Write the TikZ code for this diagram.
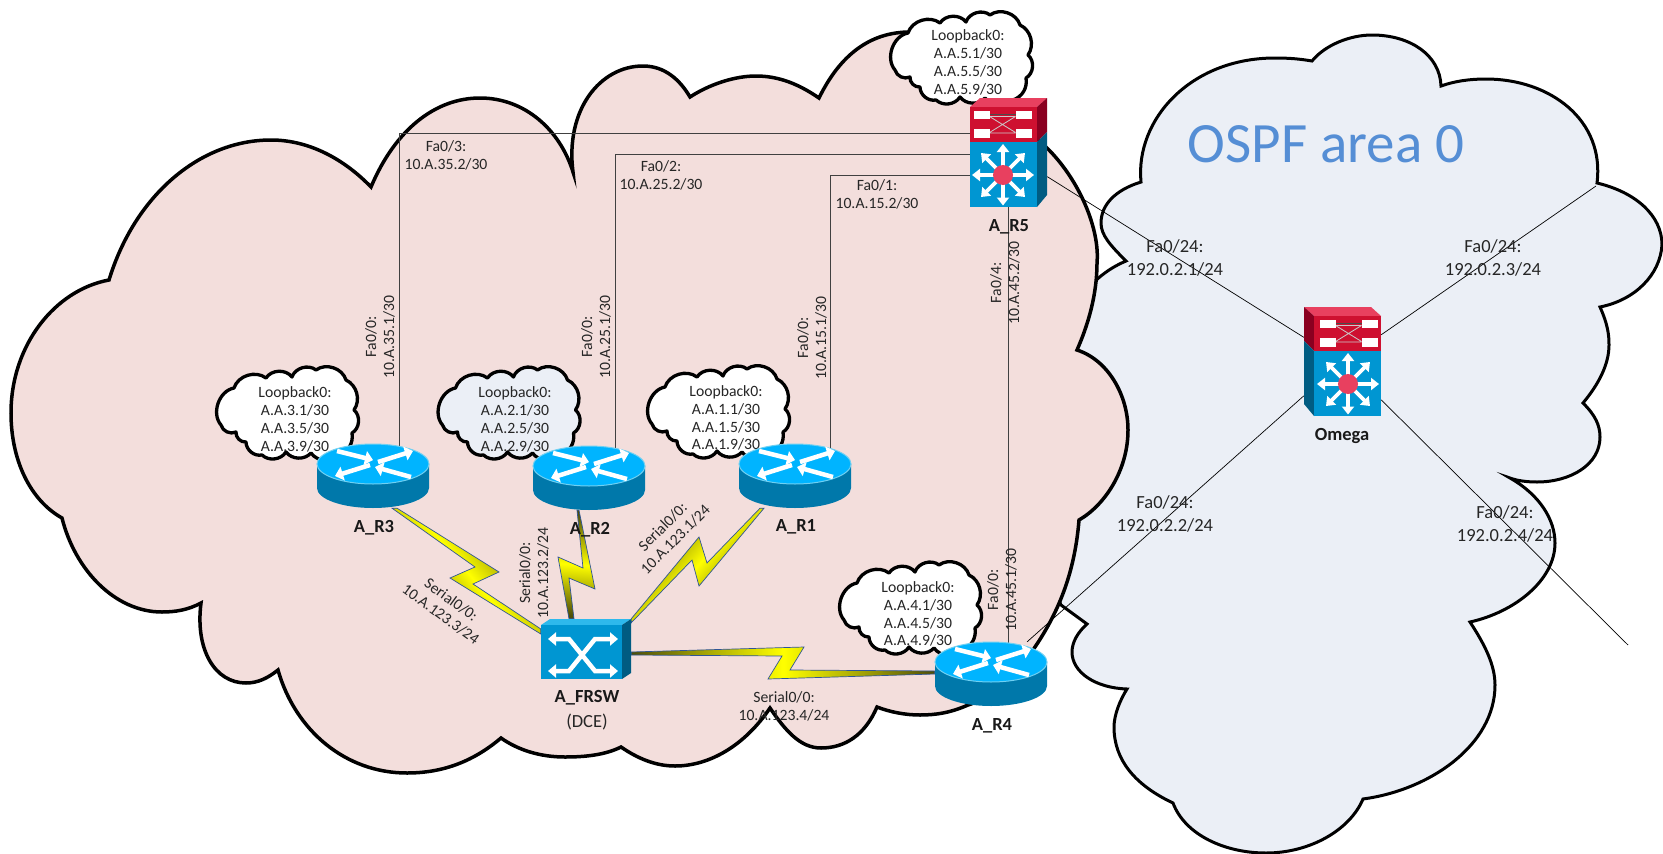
\documentclass[tikz,border=0pt]{standalone}
\usepackage{fontspec}
\setmainfont{Carlito}
\usepackage{tikz}
\usetikzlibrary{arrows.meta}
\definecolor{pinkarea}{HTML}{F3DEDC}
\definecolor{bluearea}{HTML}{EBEFF6}
\definecolor{labeltext}{HTML}{262626}
\definecolor{areatext}{HTML}{558ED5}
\definecolor{routertop}{HTML}{00B4FF}
\definecolor{routerrim}{HTML}{6FD0F2}
\definecolor{routerbody}{HTML}{0078AA}
\definecolor{switchfront}{HTML}{0096D2}
\definecolor{switchtop}{HTML}{2EB9EC}
\definecolor{switchside}{HTML}{005C82}
\definecolor{panelfront}{HTML}{CE1030}
\definecolor{paneltop}{HTML}{E8405F}
\definecolor{panelside}{HTML}{8A0020}
\definecolor{bolthi}{HTML}{FFFF00}
\definecolor{boltlo}{HTML}{4E4E08}
\definecolor{boltedge}{HTML}{2F5597}
\tikzset{
  area/.style={draw=black,line width=3.5pt,line join=miter},
  smallcloud/.style={draw=black,line width=3.3pt,line join=round},
  wire/.style={draw=black!75,line width=1pt},
  thinwire/.style={draw=black,line width=0.7pt},
  serialbolt/.style={draw=boltedge,line width=0.7pt,left color=boltlo,right color=boltlo,middle color=bolthi},
  devarrow/.style={draw=white,line width=3.6pt,-{Triangle[length=8pt,width=12pt]}},
  routerarrow/.style={draw=white,line width=4.5pt,-{Triangle[length=8pt,width=14pt]}},
  devbox/.style={inner sep=0pt,minimum width=#1},
  portlabel/.style={font=\fontsize{15.7}{17.8}\selectfont,align=center,text=labeltext,inner sep=0pt},
  bigport/.style={font=\fontsize{18.5}{22.5}\selectfont,align=center,text=labeltext,inner sep=0pt},
  devlabel/.style={font=\fontsize{18.5}{22}\selectfont\bfseries,text=black!90,inner sep=0pt},
  dcelabel/.style={font=\fontsize{18.5}{22}\selectfont,text=labeltext,inner sep=0pt},
  pics/router/.style={code={
    \path[fill=routerbody] (-56,-12) -- (-56,12) arc[start angle=180,end angle=0,x radius=56,y radius=20] -- (56,-12) -- cycle;
    \path[draw=routerrim,line width=1pt,fill=routertop] (0,-12) circle[x radius=56,y radius=20];
    \draw[routerarrow] (-36,-25) -- (0,-16);
    \draw[routerarrow] (5,-14) -- (40,-25);
    \draw[routerarrow] (-3,-11) -- (-38,0);
    \draw[routerarrow] (38,1) -- (2,-9);
  }},
  pics/mlswitch/.style={code={
    \path[fill=paneltop] (-38.5,-45.5) -- (-28.5,-54.5) -- (38.5,-54.5) -- (28.5,-45.5) -- cycle;
    \path[fill=panelside] (28.5,-45.5) -- (38.5,-54.5) -- (38.5,-20.5) -- (28.5,-10.5) -- cycle;
    \path[fill=switchside] (28.5,-10.5) -- (38.5,-20.5) -- (38.5,42.5) -- (28.5,54.5) -- cycle;
    \path[fill=panelfront] (-38.5,-45.5) rectangle (28.5,-10.5);
    \path[fill=switchfront] (-38.5,-10.5) rectangle (28.5,54.5);
    \draw[black!70,line width=0.7pt] (-19,-38) -- (7,-38);
    \draw[white!80!black,line width=0.8pt] (-19,-36) -- (7,-36) (-19,-36) -- (7,-20) (-19,-20) -- (7,-36) (-19,-19.5) -- (7,-19.5);
    \path[fill=white] (-35,-42) rectangle (-19,-33.5);
    \path[fill=white] (7,-42) rectangle (23,-33.5);
    \path[fill=white] (-35,-23.5) rectangle (-19,-15);
    \path[fill=white] (7,-23.5) rectangle (23,-15);
    \draw[devarrow] (-5.5,22.5) -- (25.5,22.5);
    \draw[devarrow] (-5.5,22.5) -- (-36.5,22.5);
    \draw[devarrow] (-5.5,22.5) -- (-5.5,-8.5);
    \draw[devarrow] (-5.5,22.5) -- (-5.5,53);
    \draw[devarrow] (-5.5,22.5) -- (16.5,0.5);
    \draw[devarrow] (-5.5,22.5) -- (-27.5,0.5);
    \draw[devarrow] (-5.5,22.5) -- (16.5,44.5);
    \draw[devarrow] (-5.5,22.5) -- (-27.5,44.5);
    \path[fill=paneltop] (-5.5,22.5) circle[radius=10];
  }},
  pics/frswitch/.style={code={
    \path[fill=switchtop] (-45,-24) -- (-36,-30) -- (45,-30) -- (36,-24) -- cycle;
    \path[fill=switchside] (36,-24) -- (45,-30) -- (45,24) -- (36,30) -- cycle;
    \path[fill=switchfront] (-45,-24) rectangle (36,30);
    \draw[draw=white,line width=4.5pt,{Triangle[length=8pt,width=13pt]}-{Triangle[length=8pt,width=13pt]}] (-38,-10) -- (-17,-10) -- (9,22) -- (32,22);
    \draw[draw=white,line width=4.5pt,{Triangle[length=8pt,width=13pt]}-{Triangle[length=8pt,width=13pt]}] (-38,22) -- (-17,22) -- (9,-10) -- (32,-10);
  }},
  pics/loopcloud/.style={code={
    \path[smallcloud,fill=#1] (-53,-24) to[bend left=55] (-21,-34) to[bend left=55] (5,-35) to[bend left=55] (29,-42) to[bend left=55] (59,-32) to[bend left=50] (67,-2) to[bend left=55] (65,21) to[bend left=40] (52,43) to[bend left=50] (24,41) to[bend left=50] (-1,40) to[bend left=50] (-25,43) to[bend left=50] (-41,30) to[bend left=50] (-51,20) to[bend left=50] (-66,13) to[bend left=60] cycle;
  }},
}
\begin{document}
\begin{tikzpicture}[x=1pt,y=-1pt]
\useasboundingbox (0,0) rectangle (1663,854);

\node [devbox=77pt,minimum height=109pt] (r5) at (1008.5,152.5) {};
\node [devbox=77pt,minimum height=109pt] (omega) at (1342.5,361.5) {};
\node [devbox=112pt,minimum height=64pt] (r3) at (373,476) {};
\node [devbox=112pt,minimum height=64pt] (r2) at (589,478) {};
\node [devbox=112pt,minimum height=64pt] (r1) at (795,476) {};
\node [devbox=112pt,minimum height=64pt] (r4) at (991,674) {};
\node [devbox=90pt,minimum height=60pt] (frsw) at (586,649) {};
\coordinate (fa3) at (399,133);
\coordinate (fa2) at (615,154);
\coordinate (fa1) at (830,175);
\coordinate (omegaup) at (1596,186);
\coordinate (omegadown) at (1628,645);

\path[area,line width=3pt,fill=bluearea] (1126,261) .. controls (1110,245) and (1101,235) .. (1101,223) .. controls (1101,205) and (1115,190) .. (1141,182)
  .. controls (1135,120) and (1190,58) .. (1275,58) .. controls (1290,58) and (1300,59) .. (1312,61)
  .. controls (1325,45) and (1350,35) .. (1372,35) .. controls (1410,35) and (1440,55) .. (1441,86)
  .. controls (1455,81) and (1470,79) .. (1486,79) .. controls (1550,79) and (1605,120) .. (1597,183)
  .. controls (1635,192) and (1662,215) .. (1662,245) .. controls (1660,275) and (1635,300) .. (1600,307)
  .. controls (1608,325) and (1609,335) .. (1609,345) .. controls (1609,365) and (1598,385) .. (1583,403)
  .. controls (1595,415) and (1600,425) .. (1600,437) .. controls (1600,465) and (1570,482) .. (1537,482) .. controls (1528,482) and (1518,481) .. (1510,478)
  .. controls (1540,495) and (1555,520) .. (1555,543) .. controls (1555,580) and (1515,612) .. (1470,622)
  .. controls (1485,645) and (1495,665) .. (1495,685) .. controls (1495,745) and (1430,790) .. (1363,799)
  .. controls (1350,830) and (1310,853) .. (1266,853) .. controls (1225,853) and (1185,835) .. (1173,803)
  .. controls (1135,785) and (1114,760) .. (1114,727) .. controls (1114,715) and (1120,700) .. (1127,689)
  .. controls (1095,688) and (1072,672) .. (1072,652) .. controls (1072,642) and (1078,632) .. (1087,624)
  -- (1061,605) .. controls (1045,570) and (1030,480) .. (1040,400) .. controls (1060,300) and (1100,272) .. (1126,261) -- cycle;

\path[area,fill=pinkarea] (109,280) .. controls (135,195) and (200,140) .. (271,140) .. controls (310,140) and (345,160) .. (371,187)
  .. controls (395,130) and (435,98) .. (480,98) .. controls (525,98) and (560,130) .. (573,172)
  .. controls (565,110) and (600,66) .. (643,66) .. controls (665,66) and (680,80) .. (690,97)
  .. controls (710,84) and (735,76) .. (756,76) .. controls (780,76) and (800,85) .. (819,98)
  .. controls (840,55) and (870,32) .. (910,32) .. controls (970,32) and (1005,110) .. (1046,147)
  .. controls (1080,180) and (1100,230) .. (1097,263) .. controls (1097,295) and (1088,325) .. (1077,350)
  .. controls (1108,360) and (1128,395) .. (1128,430) .. controls (1128,470) and (1105,505) .. (1079,520)
  .. controls (1075,570) and (1060,610) .. (1035,647) .. controls (1020,670) and (1000,695) .. (968,705)
  .. controls (950,713) and (935,715) .. (920,715) .. controls (905,715) and (890,712) .. (877,707)
  .. controls (865,735) and (845,748) .. (821,748) .. controls (800,748) and (785,730) .. (770,708)
  .. controls (745,745) and (710,766) .. (675,766) .. controls (655,766) and (637,758) .. (621,747)
  .. controls (605,755) and (585,757) .. (565,757) .. controls (540,757) and (518,750) .. (501,738)
  .. controls (475,760) and (445,773) .. (407,773) .. controls (345,773) and (295,730) .. (278,670)
  .. controls (268,678) and (258,683) .. (246,683) .. controls (215,683) and (195,650) .. (201,603)
  .. controls (188,610) and (175,612) .. (162,612) .. controls (115,612) and (75,570) .. (62,518)
  .. controls (30,500) and (11,460) .. (11,413) .. controls (11,345) and (55,290) .. (109,280) -- cycle;

\draw[wire] (r3 -| fa3) -- (fa3) -- (fa3 -| r5);
\draw[wire] (r2 -| fa2) -- (fa2) -- (fa2 -| r5);
\draw[wire] (r1 -| fa1) -- (fa1) -- (fa1 -| r5);
\draw[wire] (r5) -- (r5 |- r4);
\draw[thinwire] (r5) -- (omega);
\draw[thinwire] (r4) -- (omega);
\draw[thinwire] (omega) -- (omegaup);
\draw[thinwire] (omega) -- (omegadown);

\path[serialbolt,shading angle=130] ([xshift=19pt]r3.south) -- (475,567) -- (450,578) -- ([yshift=15pt]frsw.west) -- ([yshift=20pt]frsw.west) -- (473,584) -- (499,572) -- ([xshift=24pt]r3.south) -- cycle;
\path[serialbolt,shading angle=175] ([xshift=-12pt]r2.south) -- (583,568) -- (558,557) -- ([xshift=-17pt]frsw.north) -- ([xshift=-12pt]frsw.north) -- (569,578) -- (595,589) -- ([xshift=-10pt]r2.south) -- cycle;
\path[serialbolt,shading angle=49] (frsw.north east) -- (699,537) -- (707,563) -- ([xshift=-35pt]r1.south) -- ([xshift=-31pt]r1.south) -- (699,586) -- (692,560) -- ([yshift=-4pt]frsw.north east) -- cycle;
\path[serialbolt,shading angle=90] ([yshift=-3pt]frsw.east) -- (804,647) -- (790,670) -- ([yshift=3pt]r4.west) -- (r4.west) -- (768,679) -- (782,656) -- ([yshift=-6pt]frsw.east) -- cycle;

\pic at (287,412) {loopcloud=white};
\pic at (508.5,412) {loopcloud=bluearea};
\pic at (718,411) {loopcloud=white};
\pic at (910,607) {loopcloud=white};
\pic at (961,57) {loopcloud=white};

\node [portlabel] (lb3) at (295,419.5) {Loopback0:\\A.A.3.1/30\\A.A.3.5/30\\A.A.3.9/30};
\node [portlabel] (lb2) at (515,419.5) {Loopback0:\\A.A.2.1/30\\A.A.2.5/30\\A.A.2.9/30};
\node [portlabel] (lb1) at (726,418) {Loopback0:\\A.A.1.1/30\\A.A.1.5/30\\A.A.1.9/30};
\node [portlabel] (lb4) at (918,614) {Loopback0:\\A.A.4.1/30\\A.A.4.5/30\\A.A.4.9/30};
\node [portlabel] (lb5) at (968,62.5) {Loopback0:\\A.A.5.1/30\\A.A.5.5/30\\A.A.5.9/30};

\pic at (r3) {router};
\pic at (r2) {router};
\pic at (r1) {router};
\pic at (r4) {router};
\pic at (r5) {mlswitch};
\pic[xscale=-1] at (omega) {mlswitch};
\pic at (frsw) {frswitch};

\node [devlabel] (nr5) at (1009,227) {A\_R5};
\node [devlabel] (nr3) at (374,528) {A\_R3};
\node [devlabel] (nr2) at (590,530) {A\_R2};
\node [devlabel] (nr1) at (796,527) {A\_R1};
\node [devlabel] (nr4) at (992,726) {A\_R4};
\node [devlabel] (nfrsw) at (587,698) {A\_FRSW};
\node [dcelabel] (ndce) at (587,722) {(DCE)};
\node [devlabel] (nomega) at (1342,436) {Omega};

\node [portlabel] (p3) at (446,155) {Fa0/3:\\10.A.35.2/30};
\node [portlabel] (p2) at (661,175) {Fa0/2:\\10.A.25.2/30};
\node [portlabel] (p1) at (877,194) {Fa0/1:\\10.A.15.2/30};
\node [portlabel,rotate=90] (q3) at (380,337) {Fa0/0:\\10.A.35.1/30};
\node [portlabel,rotate=90] (q2) at (596,337) {Fa0/0:\\10.A.25.1/30};
\node [portlabel,rotate=90] (q1) at (812,338) {Fa0/0:\\10.A.15.1/30};
\node [portlabel,rotate=90] (p4) at (1005,283) {Fa0/4:\\10.A.45.2/30};
\node [portlabel,rotate=90] (q4) at (1002,590) {Fa0/0:\\10.A.45.1/30};

\node [portlabel,rotate=-36] (s3) at (446,607) {Serial0/0:\\10.A.123.3/24};
\node [portlabel,rotate=90] (s2) at (534,573) {Serial0/0:\\10.A.123.2/24};
\node [portlabel,rotate=45] (s1) at (669,533) {Serial0/0:\\10.A.123.1/24};
\node [portlabel] (s4) at (784,706) {Serial0/0:\\10.A.123.4/24};

\node [bigport] (o1) at (1175,258) {Fa0/24:\\192.0.2.1/24};
\node [bigport] (o3) at (1493,258) {Fa0/24:\\192.0.2.3/24};
\node [bigport] (o2) at (1165,514) {Fa0/24:\\192.0.2.2/24};
\node [bigport] (o4) at (1505,524) {Fa0/24:\\192.0.2.4/24};

\node [font=\fontsize{57}{60}\selectfont,text=areatext,inner sep=0pt] (ospf) at (1326,144) {OSPF area 0};
\end{tikzpicture}
\end{document}
